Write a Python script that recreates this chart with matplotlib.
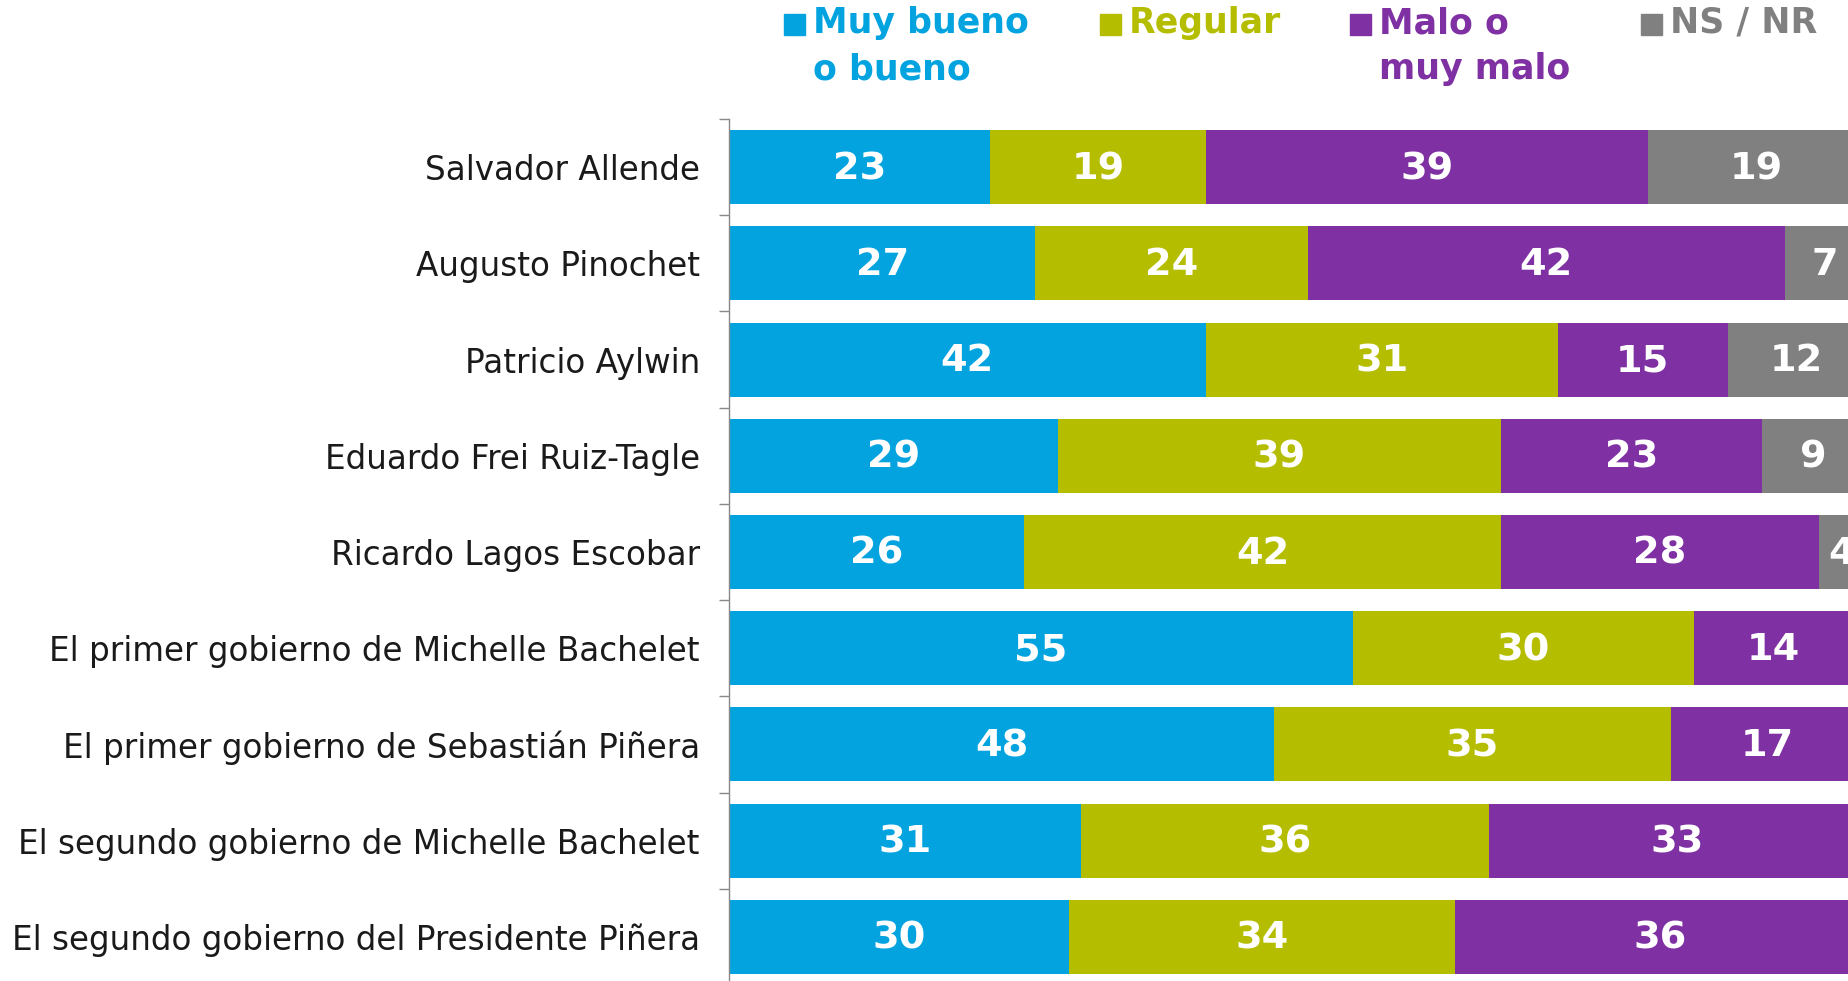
import numpy as np
import matplotlib
matplotlib.use("Agg")
import matplotlib.pyplot as plt
from matplotlib.patches import Rectangle

# data
categories = ["Salvador Allende", "Augusto Pinochet", "Patricio Aylwin",
              "Eduardo Frei Ruiz-Tagle", "Ricardo Lagos Escobar",
              "El primer gobierno de Michelle Bachelet",
              "El primer gobierno de Sebastián Piñera",
              "El segundo gobierno de Michelle Bachelet",
              "El segundo gobierno del Presidente Piñera"]
muy_bueno = [23, 27, 42, 29, 26, 55, 48, 31, 30]
regular = [19, 24, 31, 39, 42, 30, 35, 36, 34]
malo = [39, 42, 15, 23, 28, 14, 17, 33, 36]
ns_nr = [19, 7, 12, 9, 4, 1, 0, 0, 0]
series_names = ["Muy bueno\no bueno", "Regular", "Malo o\nmuy malo", "NS / NR"]
colors = ["#03A3E0", "#B5BD00", "#7F30A3", "#808080"]

W, H = 1849, 981
fig = plt.figure(figsize=(W/100, H/100), dpi=100)

# axes runs off the right and bottom edges like the original crop
left, top, scale = 729, 119, 11.35
ax = fig.add_axes([left/W, 1 - 985/H, 100*scale/W, (985 - top)/H])
xvis = (W - left)/scale  # last visible percentage

y = np.arange(len(categories))
series = [muy_bueno, regular, malo, ns_nr]
base = np.zeros(len(categories))
for vals, col in zip(series, colors):
    vals = np.array(vals, dtype=float)
    ax.barh(y, vals, left=base, height=0.77, color=col, edgecolor="none")
    for yi, b, v in zip(y, base, vals):
        # labels whose centre falls outside the crop are not shown
        if v > 0 and b + v/2 < xvis:
            ax.text(b + v/2, yi + 0.02, "%d" % v, ha="center", va="center",
                    color="white", fontsize=27.5, fontweight="bold",
                    family="DejaVu Sans")
    base += vals

ax.set_xlim(0, 100)
ax.set_ylim(len(categories) - 0.5, -0.5)
ax.set_xticks([])
ax.set_yticks(y)
ax.set_yticklabels(categories, fontsize=23.5, family="DejaVu Sans", color="#1a1a1a")
ax.tick_params(axis="y", which="major", length=0, pad=21)
ax.set_yticks(np.arange(len(categories)) - 0.5, minor=True)
ax.tick_params(axis="y", which="minor", length=7, width=1, color="#888888")
for s in ["top", "right", "bottom"]:
    ax.spines[s].set_visible(False)
ax.spines["left"].set_color("#888888")
ax.spines["left"].set_linewidth(1)

# legend drawn by hand, pixel positions
leg_x = [784, 1100, 1350, 1641]
for name, col, lx in zip(series_names, colors, leg_x):
    fig.add_artist(Rectangle((lx/W, 1 - 35/H), 21/W, 21/H, color=col,
                             transform=fig.transFigure))
    fig.text((lx + 29)/W, 1 - 6/H, name, ha="left", va="top", color=col,
             fontsize=25, fontweight="bold", family="DejaVu Sans",
             linespacing=1.45)

fig.savefig("out.png", dpi=100)
